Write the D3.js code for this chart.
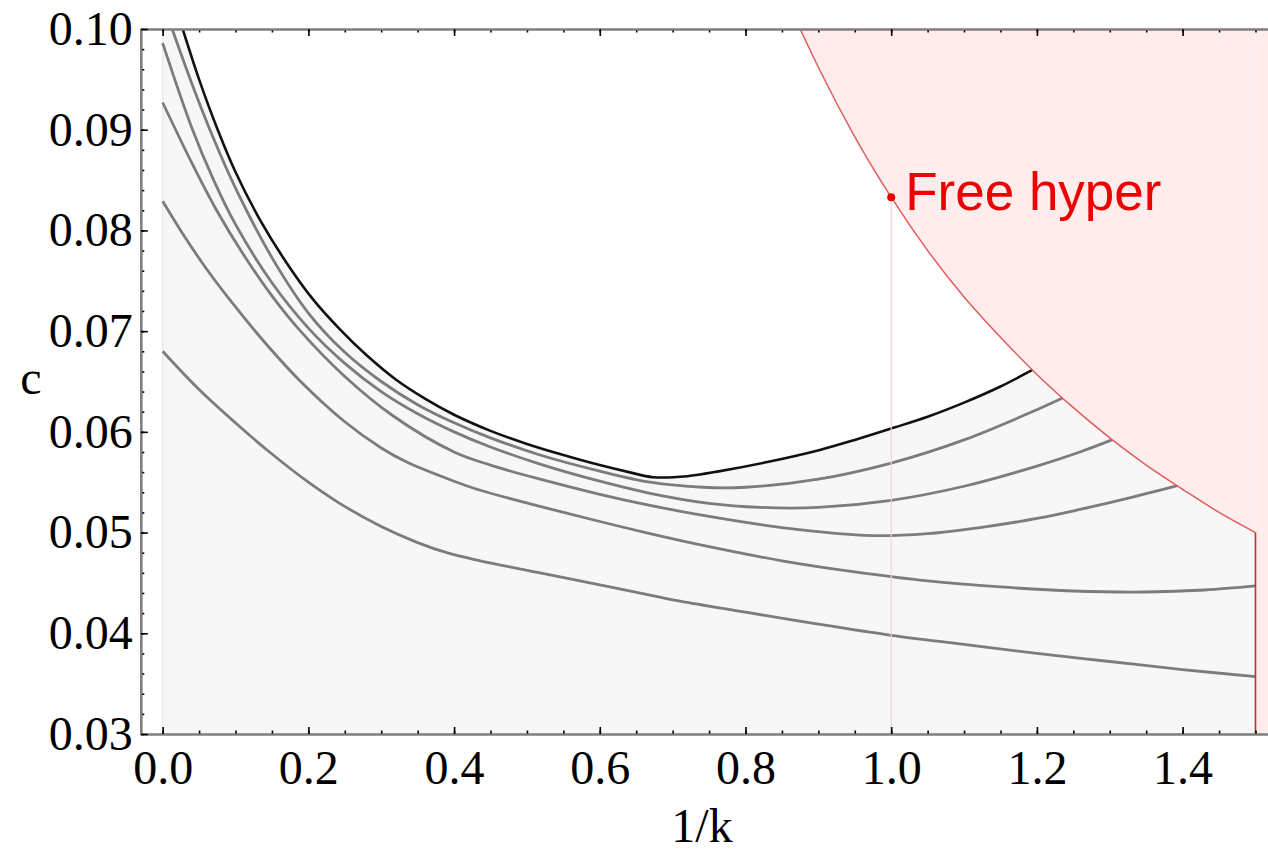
<html>
  <head>
    <meta charset="utf-8">
    <title>c vs 1/k</title>
    <script src="https://d3js.org/d3.v7.min.js"></script>
    <style>
      body { margin: 0; background: #fff; }
      .tick text { font-family: "Liberation Serif", "Times New Roman", serif; font-size: 48px; fill: #000; }
      .axis-title { font-family: "Liberation Serif", "Times New Roman", serif; font-size: 48px; }
    </style>
  </head>
  <body>
    <svg id="chart" width="1268" height="865"></svg>

    <script>
      // ---- data: [1/k, c] ----
      // upper envelope (black)
      const envelope = [
        [0.0275, 0.1000], [0.05, 0.0950], [0.075, 0.0901], [0.10, 0.0858], [0.134, 0.0810],
        [0.17, 0.0768], [0.207, 0.0731], [0.243, 0.0702], [0.28, 0.0676], [0.32, 0.0652],
        [0.36, 0.0633], [0.40, 0.0617], [0.45, 0.0601], [0.50, 0.0588], [0.55, 0.0577],
        [0.60, 0.0567], [0.64, 0.0560], [0.673, 0.0555], [0.72, 0.0556], [0.765, 0.0561],
        [0.83, 0.0570], [0.902, 0.0582], [0.95, 0.0592], [1.003, 0.0604], [1.05, 0.0615],
        [1.10, 0.0629], [1.15, 0.0645], [1.19, 0.0660], [1.22, 0.0672]
      ];

      // family of grey curves, top to bottom
      const curve1 = [
        [0.013, 0.1000], [0.04, 0.0946], [0.07, 0.0891], [0.10, 0.0842], [0.15, 0.0773],
        [0.20, 0.0718], [0.25, 0.0679], [0.30, 0.0650], [0.35, 0.0627], [0.40, 0.0609],
        [0.45, 0.0594], [0.518, 0.0577], [0.60, 0.0561], [0.669, 0.0550], [0.742, 0.0545],
        [0.80, 0.0545], [0.90, 0.0553], [1.00, 0.0569], [1.10, 0.0592], [1.20, 0.0622],
        [1.26, 0.0642]
      ];
      const curve2 = [
        [0.0, 0.0986], [0.04, 0.0902], [0.07, 0.0850], [0.10, 0.0806], [0.15, 0.0748],
        [0.20, 0.0703], [0.25, 0.0668], [0.30, 0.0640], [0.35, 0.0618], [0.40, 0.0600],
        [0.45, 0.0585], [0.518, 0.0568], [0.60, 0.0551], [0.669, 0.0539], [0.75, 0.0529],
        [0.82, 0.0525], [0.90, 0.0525], [1.00, 0.0532], [1.10, 0.0546], [1.20, 0.0566],
        [1.259, 0.0580], [1.31, 0.0594]
      ];
      const curve3 = [
        [0.0, 0.0927], [0.04, 0.0867], [0.074, 0.0820], [0.11, 0.0777], [0.15, 0.0735],
        [0.188, 0.0701], [0.25, 0.0655], [0.316, 0.0616], [0.40, 0.0580], [0.45, 0.0567],
        [0.518, 0.0553], [0.60, 0.0538], [0.669, 0.0527], [0.75, 0.0516], [0.85, 0.0505],
        [0.975, 0.0497], [1.05, 0.0499], [1.122, 0.0505], [1.20, 0.0514], [1.259, 0.0523],
        [1.33, 0.0535], [1.41, 0.0550], [1.44, 0.0557]
      ];
      const curve4 = [
        [0.0, 0.0829], [0.03, 0.0794], [0.06, 0.0762], [0.10, 0.0724], [0.14, 0.0689],
        [0.188, 0.0651], [0.25, 0.0610], [0.30, 0.0584], [0.335, 0.0570], [0.40, 0.0551],
        [0.436, 0.0542], [0.518, 0.0526], [0.60, 0.0511], [0.669, 0.0499], [0.75, 0.0486],
        [0.85, 0.0472], [0.95, 0.0461], [1.05, 0.0452], [1.15, 0.0446], [1.25, 0.0442],
        [1.35, 0.0441], [1.43, 0.0443], [1.50, 0.0447]
      ];
      const curve5 = [
        [0.0, 0.0680], [0.05, 0.0642], [0.106, 0.0605], [0.15, 0.0578], [0.20, 0.0550],
        [0.243, 0.0529], [0.30, 0.0506], [0.35, 0.0490], [0.39, 0.0480], [0.436, 0.0472],
        [0.518, 0.0460], [0.60, 0.0448], [0.669, 0.0438], [0.71, 0.0432], [0.80, 0.0421],
        [0.90, 0.0409], [1.00, 0.0398], [1.10, 0.0389], [1.20, 0.0380], [1.30, 0.0372],
        [1.40, 0.0364], [1.50, 0.0357]
      ];
      const greyCurves = [curve1, curve2, curve3, curve4, curve5];

      // free-hyper boundary (red)
      const boundary = [
        [0.875, 0.1000], [0.90, 0.0962], [0.95, 0.0893], [1.00, 0.0833], [1.05, 0.0780],
        [1.10, 0.0734], [1.15, 0.0694], [1.20, 0.0657], [1.25, 0.0624], [1.30, 0.0594],
        [1.35, 0.0567], [1.40, 0.0543], [1.45, 0.0520], [1.50, 0.0500]
      ];
      const kMax = 1.5;          // right edge of the allowed range
      const freePoint = [1.0, 0.0833];
      const freeLabel = "Free hyper";

      const xTickLabels = ["0.0", "0.2", "0.4", "0.6", "0.8", "1.0", "1.2", "1.4"];
      const yTickLabels = ["0.03", "0.04", "0.05", "0.06", "0.07", "0.08", "0.09", "0.10"];
      const xTitle = "1/k";
      const yTitle = "c";

      // ---- layout ----
      const svg = d3.select("svg#chart");

      const x = d3.scaleLinear().domain([-0.03, 1.55]).range([140.8, 1291.9]);
      const y = d3.scaleLinear().domain([0.03, 0.10]).range([734, 29]);
      const [x0, x1] = x.domain();
      const [y0, y1] = y.domain();

      svg.append("defs").append("clipPath").attr("id", "plotclip")
        .append("rect")
        .attr("x", x(x0)).attr("y", y(y1))
        .attr("width", x(x1) - x(x0)).attr("height", y(y0) - y(y1));

      const plot = svg.append("g").attr("clip-path", "url(#plotclip)");

      const smooth = d3.curveCatmullRom.alpha(0.5);

      // grey filled region: under the envelope, then under the boundary
      const lastEnv = 1.19;
      const fillTop = [[0, y1]]
        .concat(envelope.filter(d => d[0] <= lastEnv))
        .concat(boundary.filter(d => d[0] > lastEnv));

      plot.append("path")
        .datum(fillTop)
        .attr("fill", "#f7f7f7")
        .attr("d", d3.area()
          .x(d => x(d[0]))
          .y0(y(y0))
          .y1(d => y(d[1]))
          .curve(smooth));

      // faint edge at 1/k = 0
      plot.append("line")
        .attr("x1", x(0)).attr("x2", x(0))
        .attr("y1", y(y0)).attr("y2", y(y1))
        .attr("stroke", "#e4e4e4").attr("stroke-width", 1);

      const line = d3.line()
        .x(d => x(d[0]))
        .y(d => y(d[1]))
        .curve(smooth);

      plot.selectAll("path.grey").data(greyCurves)
        .join("path")
        .attr("class", "grey")
        .attr("fill", "none")
        .attr("stroke", "#7c7c7c")
        .attr("stroke-width", 2.8)
        .attr("d", line);

      plot.append("path")
        .datum(envelope)
        .attr("fill", "none")
        .attr("stroke", "#111")
        .attr("stroke-width", 2.6)
        .attr("d", line);

      // thin guide line under the marker
      plot.append("line")
        .attr("x1", x(freePoint[0])).attr("x2", x(freePoint[0]))
        .attr("y1", y(freePoint[1])).attr("y2", y(y0))
        .attr("stroke", "#f3d4d4").attr("stroke-width", 1.2);

      // pink forbidden region (opaque so it hides curve overshoot)
      const bLine = d3.line()
        .x(d => x(d[0]))
        .y(d => y(d[1]))
        .curve(d3.curveMonotoneX);

      plot.append("path")
        .datum(boundary)
        .attr("fill", "#ffecec")
        .attr("d", d3.area()
          .x(d => x(d[0]))
          .y0(y(y1))
          .y1(d => y(d[1]))
          .curve(d3.curveMonotoneX));

      plot.append("rect")
        .attr("x", x(kMax)).attr("y", y(y1))
        .attr("width", x(x1) - x(kMax)).attr("height", y(y0) - y(y1))
        .attr("fill", "#ffecec");

      plot.append("path")
        .datum(boundary)
        .attr("fill", "none")
        .attr("stroke", "#e25c5c")
        .attr("stroke-width", 1.5)
        .attr("d", bLine);

      plot.append("line")
        .attr("x1", x(kMax)).attr("x2", x(kMax))
        .attr("y1", y(boundary[boundary.length - 1][1])).attr("y2", y(y0))
        .attr("stroke", "#b83232").attr("stroke-width", 1.6);

      plot.append("circle")
        .attr("cx", x(freePoint[0])).attr("cy", y(freePoint[1]))
        .attr("r", 4)
        .attr("fill", "#e00000");

      plot.append("text")
        .attr("x", x(freePoint[0]) + 14)
        .attr("y", y(freePoint[1]) + 13)
        .attr("fill", "#ee0000")
        .attr("font-family", "'Liberation Sans', Arial, sans-serif")
        .attr("font-size", 53)
        .text(freeLabel);

      // ---- frame + ticks (inward, Mathematica style) ----
      const xMajor = xTickLabels.map(Number);
      const yMajor = yTickLabels.map(Number);
      const xMinor = d3.range(0, 1.5001, 0.05).map(v => +v.toFixed(2));
      const yMinor = d3.range(0.03, 0.1001, 0.002).map(v => +v.toFixed(3));

      function styleAxis(g) {
        g.select(".domain").attr("stroke", "#7f7f7f").attr("stroke-width", 2.2);
        g.selectAll(".tick line").attr("stroke", "#000").attr("stroke-width", 1.6);
      }

      // minor ticks first
      svg.append("g").attr("transform", `translate(0,${y(y0)})`)
        .call(d3.axisBottom(x).tickValues(xMinor).tickSize(-3.5).tickSizeOuter(0).tickFormat(""))
        .call(styleAxis);
      svg.append("g").attr("transform", `translate(0,${y(y1)})`)
        .call(d3.axisTop(x).tickValues(xMinor).tickSize(-3.5).tickSizeOuter(0).tickFormat(""))
        .call(styleAxis);
      svg.append("g").attr("transform", `translate(${x(x0)},0)`)
        .call(d3.axisLeft(y).tickValues(yMinor).tickSize(-3.5).tickSizeOuter(0).tickFormat(""))
        .call(styleAxis);

      // major ticks + labels
      svg.append("g").attr("transform", `translate(0,${y(y0)})`)
        .call(d3.axisBottom(x).tickValues(xMajor).tickSize(-7).tickSizeOuter(0).tickPadding(16)
          .tickFormat((d, i) => xTickLabels[i]))
        .call(styleAxis);
      svg.append("g").attr("transform", `translate(0,${y(y1)})`)
        .call(d3.axisTop(x).tickValues(xMajor).tickSize(-7).tickSizeOuter(0).tickFormat(""))
        .call(styleAxis);
      svg.append("g").attr("transform", `translate(${x(x0)},0)`)
        .call(d3.axisLeft(y).tickValues(yMajor).tickSize(-7).tickSizeOuter(0).tickPadding(8)
          .tickFormat((d, i) => yTickLabels[i]))
        .call(styleAxis);

      svg.append("text")
        .attr("class", "axis-title")
        .attr("x", 702).attr("y", 842)
        .attr("text-anchor", "middle")
        .text(xTitle);

      svg.append("text")
        .attr("class", "axis-title")
        .attr("x", 31).attr("y", 394)
        .attr("text-anchor", "middle")
        .text(yTitle);
    </script>
  </body>
</html>
